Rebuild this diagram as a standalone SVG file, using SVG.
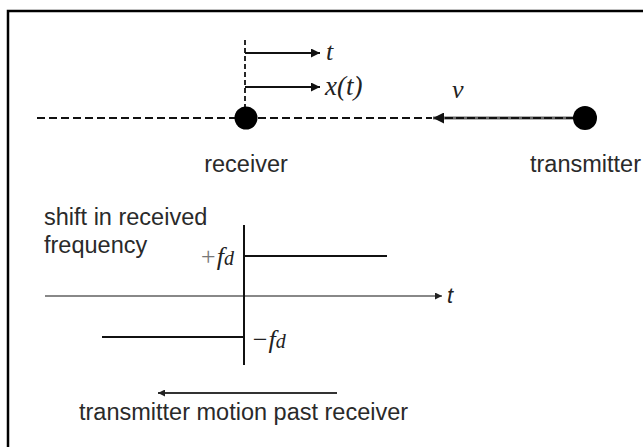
<svg xmlns="http://www.w3.org/2000/svg" width="643" height="447" viewBox="0 0 643 447">
<style>
.lbl{font-family:"Liberation Sans",Arial,sans-serif;font-size:23.5px;fill:#2a2a2a}
.math{font-family:"Liberation Serif","Times New Roman",serif;font-style:italic;font-size:26px;fill:#222}
.dash{stroke:#111;stroke-width:2;stroke-dasharray:8 4;fill:none}
.ln{stroke:#111;stroke-width:2;fill:none}
.axis{stroke:#888;stroke-width:2;fill:none}
</style>
<defs>
<marker id="ah" viewBox="0 0 10 10" refX="10" refY="5" markerWidth="10" markerHeight="9" markerUnits="userSpaceOnUse" orient="auto">
<path d="M0,0 L10,5 L0,10 Z" fill="#111"/>
</marker>
<marker id="ahs" viewBox="0 0 10 10" refX="10" refY="5" markerWidth="8" markerHeight="7" markerUnits="userSpaceOnUse" orient="auto">
<path d="M0,0 L10,5 L0,10 Z" fill="#222"/>
</marker>
<marker id="ahv" viewBox="0 0 10 10" refX="10" refY="5" markerWidth="13" markerHeight="11" markerUnits="userSpaceOnUse" orient="auto">
<path d="M0,0 L10,5 L0,10 Z" fill="#111"/>
</marker>
</defs>
<rect x="0" y="0" width="643" height="447" fill="#fff"/>
<rect x="8" y="11" width="700" height="500" fill="none" stroke="#000" stroke-width="2.5"/>

<g id="connectors">
<line class="dash" x1="37" y1="118" x2="235" y2="118"/>
<line class="dash" x1="258" y1="118" x2="432" y2="118"/>
<line x1="585" y1="118" x2="433" y2="118" stroke="#666" stroke-width="3" marker-end="url(#ahv)"/>
<line x1="445" y1="118" x2="575" y2="118" stroke="#111" stroke-width="2" stroke-dasharray="8 3"/>
<line x1="245" y1="40" x2="245" y2="107" stroke="#111" stroke-width="1.8" stroke-dasharray="5 3"/>
<line class="ln" x1="245" y1="53" x2="320" y2="53" marker-end="url(#ah)"/>
<line class="ln" x1="245" y1="87" x2="320" y2="87" marker-end="url(#ah)"/>
</g>

<g id="receiver">
<circle cx="246" cy="118" r="11.5" fill="#000"/>
<text class="lbl" x="246" y="172" text-anchor="middle">receiver</text>
</g>

<g id="transmitter">
<circle cx="585" cy="118" r="12" fill="#000"/>
<text class="lbl" x="530" y="172">transmitter</text>
</g>

<g id="labels">
<text class="math" x="326" y="60">t</text>
<text class="math" x="325" y="95" style="font-size:27px">x(t)</text>
<text class="math" x="452" y="98">v</text>
</g>

<g id="plot">
<text class="lbl" x="44" y="225">shift in received</text>
<text class="lbl" x="44" y="253">frequency</text>
<line class="axis" x1="45" y1="296" x2="442" y2="296" marker-end="url(#ahs)"/>
<text x="447" y="303" style="font-family:'Liberation Sans',Arial,sans-serif;font-style:italic;font-size:22px;fill:#222">t</text>
<line class="ln" x1="244" y1="225" x2="244" y2="365"/>
<line class="ln" x1="245" y1="256" x2="387" y2="256"/>
<line class="ln" x1="102" y1="337" x2="244" y2="337"/>
<text class="math" x="234" y="265" text-anchor="end"><tspan fill="#777">+</tspan>f<tspan style="font-size:20px">d</tspan></text>
<text class="math" x="251" y="348">−f<tspan style="font-size:20px">d</tspan></text>
<line x1="337" y1="393" x2="158" y2="393" stroke="#333" stroke-width="1.8" marker-end="url(#ahs)"/>
<text class="lbl" x="79" y="420">transmitter motion past receiver</text>
</g>
</svg>
